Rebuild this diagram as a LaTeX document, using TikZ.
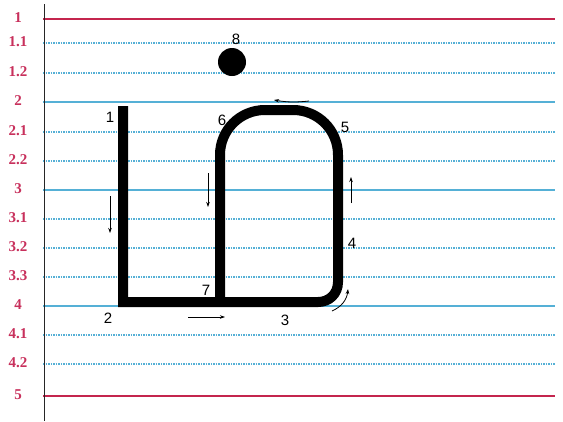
\documentclass[tikz,border=0pt]{standalone}
\usepackage{fontspec}
\setmainfont{Liberation Serif}
\newfontfamily\lblfont{Liberation Sans}
\usetikzlibrary{arrows.meta}
\definecolor{crim}{HTML}{C4254E}
\definecolor{lblred}{HTML}{C8305C}
\definecolor{lineblue}{HTML}{55B0D6}
\tikzset{
  redline/.style={draw=crim, line width=2pt},
  blueline/.style={draw=lineblue, line width=1.8pt},
  dotline/.style={draw=lineblue, line width=1.2pt, dash pattern=on 1.5pt off 1pt},
  rowlabel/.style={text=lblred, font=\bfseries\fontsize{15}{15}\selectfont, anchor=center},
  ptlabel/.style={font=\lblfont\fontsize{15}{15}\selectfont, anchor=center},
  letter/.style={line width=10pt, line join=miter, line cap=butt},
  dirarrow/.style={line width=0.8pt, -{Stealth[length=5pt,width=3.5pt]}}
}
\begin{document}
\begin{tikzpicture}[x=1pt,y=-1pt]
\useasboundingbox (0,0) rectangle (563,421);
\fill[white] (0,0) rectangle (563,421);
% ruled lines
\foreach \yy/\lab/\sty [count=\i] in {18.5/1/redline, 43/1.1/dotline, 73/1.2/dotline, 102/2/blueline, 132/2.1/dotline, 161/2.2/dotline, 190/3/blueline, 219/3.1/dotline, 248/3.2/dotline, 277/3.3/dotline, 306/4/blueline, 335/4.1/dotline, 364/4.2/dotline, 396/5/redline}{
  \coordinate (Lrow\i) at (43,\yy);
  \coordinate (Rrow\i) at (555,\yy);
  \draw[\sty] (Lrow\i) -- (Rrow\i);
  \node[rowlabel] (Trow\i) at (18,\yy-1) {\lab};
}
% margin line
\coordinate (mtop) at (44.5,4);
\coordinate (mbot) at (44.5,421);
\draw[line width=1.3pt, black!85] (mtop) -- (mbot);
% letter stroke
\coordinate (p1) at (123,106);
\coordinate (p2) at (123,302);
\coordinate (p7) at (220,302);
\draw[letter] (p1) -- (p2) -- (318,302)
  .. controls (329,302) and (338,294) .. (338,282)
  -- (338,155)
  .. controls (338,130) and (318,110) .. (293,110)
  -- (265,110)
  .. controls (240,110) and (220,130) .. (220,155)
  -- (p7);
% dot
\fill (232,62) circle (14);
% point labels
\node[ptlabel] (n1) at (110,117) {1};
\node[ptlabel] (n2) at (108,318) {2};
\node[ptlabel] (n3) at (285,320) {3};
\node[ptlabel] (n4) at (352,243) {4};
\node[ptlabel] (n5) at (345,127) {5};
\node[ptlabel] (n6) at (222,120) {6};
\node[ptlabel] (n7) at (206,290) {7};
\node[ptlabel] (n8) at (236,39) {8};
% direction arrows
\coordinate (a1s) at (110,196); \coordinate (a1e) at (110,233);
\draw[dirarrow] (a1s) -- (a1e);
\coordinate (a2s) at (208,173); \coordinate (a2e) at (208,207);
\draw[dirarrow] (a2s) -- (a2e);
\coordinate (a3s) at (188,317); \coordinate (a3e) at (225,317);
\draw[dirarrow] (a3s) -- (a3e);
\coordinate (a4s) at (351,203); \coordinate (a4e) at (351,177);
\draw[dirarrow] (a4s) -- (a4e);
\coordinate (a5s) at (309,101); \coordinate (a5e) at (274,100);
\draw[dirarrow] (a5s) to[bend left=8] (a5e);
\coordinate (a6s) at (332,311); \coordinate (a6e) at (348,289);
\draw[dirarrow] (a6s) to[bend right=30] (a6e);
\end{tikzpicture}
\end{document}
